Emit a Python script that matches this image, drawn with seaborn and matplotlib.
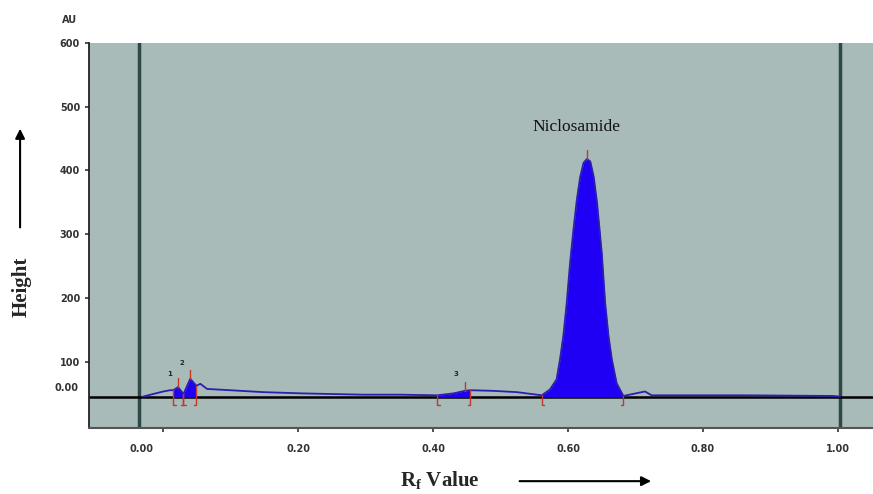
import numpy as np
import pandas as pd
import seaborn as sns
import matplotlib.pyplot as plt
import matplotlib.transforms as mtransforms

# Rf / height values (AU)
rf = [-0.030, 0.000, 0.010, 0.015, 0.022, 0.030, 0.040, 0.049, 0.055, 0.065,
      0.099, 0.148, 0.207, 0.296, 0.351, 0.406, 0.430, 0.447, 0.455, 0.489,
      0.524, 0.561, 0.573, 0.583, 0.588, 0.593, 0.598, 0.603, 0.608, 0.613,
      0.618, 0.623, 0.628, 0.633, 0.638, 0.643, 0.650, 0.655, 0.660, 0.665,
      0.672, 0.682, 0.714, 0.724, 0.766, 0.865, 0.993, 1.003]
height = [45, 53, 55, 55, 60, 49, 73, 62, 65, 57,
          55, 52, 50, 48, 48, 47, 50, 54, 55, 54,
          52, 47, 56, 72, 103, 140, 192, 255, 307, 354,
          390, 412, 418, 414, 390, 349, 270, 192, 140, 103,
          66, 46, 53, 47, 47, 47, 46, 45]

# integrated peaks: start, apex, end (Rf)
peak_start = [0.015, 0.030, 0.406, 0.561]
peak_apex = [0.022, 0.040, 0.447, 0.628]
peak_end = [0.030, 0.049, 0.455, 0.682]
peak_ids = ["1", "2", "3"]
id_pos = [(0.010, 80), (0.028, 98), (0.434, 80)]

baseline = 44
x_ticks = [0.0, 0.2, 0.4, 0.6, 0.8, 1.0]
x_labels = ["0.00", "0.20", "0.40", "0.60", "0.80", "1.00"]
y_ticks = [100, 200, 300, 400, 500, 600]

df = pd.DataFrame({"rf": rf, "height": height})

sns.set_theme(style="white")
plt.rcParams["font.family"] = ["DejaVu Sans"]

fig = plt.figure(figsize=(8.73, 4.94), dpi=100)
ax = fig.add_axes([0.102, 0.134, 0.898, 0.779])
ax.set_facecolor("#a8bbb9")

# front / start lines and baseline
ax.axvline(-0.036, color="#2d4846", lw=2.5, zorder=1)
ax.axvline(1.003, color="#2d4846", lw=2.5, zorder=1)
ax.axhline(baseline, color="black", lw=1.8, zorder=1)

x = np.array(rf)
y = np.array(height)
for s, e in zip(peak_start, peak_end):
    mask = (x >= s) & (x <= e)
    ax.fill_between(x, baseline, y, where=mask, color="#1f00f5", lw=0, zorder=2)

sns.lineplot(data=df, x="rf", y="height", sort=False, color="#2a1fb0",
             lw=1.3, ax=ax, zorder=3)

# integration markers
red = "#c0392b"
for s, a, e in zip(peak_start, peak_apex, peak_end):
    ys = np.interp(s, x, y)
    ye = np.interp(e, x, y)
    ya = np.interp(a, x, y)
    ax.plot([s + 0.004, s, s], [baseline - 12, baseline - 12, ys], color=red, lw=1, zorder=4)
    ax.plot([e - 0.004, e, e], [baseline - 12, baseline - 12, ye], color=red, lw=1, zorder=4)
    ax.plot([a, a], [ya, ya + 14], color=red, lw=1, zorder=4)

for t, (px, py) in zip(peak_ids, id_pos):
    ax.text(px, py, t, fontsize=5, fontweight="bold", ha="center", va="center")

ax.text(0.613, 468, "Niclosamide", family="Liberation Serif", fontsize=12.5,
        ha="center", va="center", color="#111111")

ax.set_xlim(-0.110, 1.052)
ax.set_ylim(-4, 600)
ax.set_xticks(x_ticks)
ax.set_xticklabels(x_labels)
ax.set_yticks(y_ticks)
ax.set_yticklabels([str(v) for v in y_ticks])
ax.tick_params(axis="both", labelsize=7, colors="#333333", length=3, width=1.2,
               direction="out", left=True, bottom=True)
ax.tick_params(axis="x", pad=9)
ax.set_xlabel("")
ax.set_ylabel("")
for lab in ax.get_xticklabels() + ax.get_yticklabels():
    lab.set_fontweight("bold")
# the 0.00 label sits left of its tick in the original
first = ax.get_xticklabels()[0]
first.set_transform(first.get_transform() +
                    mtransforms.ScaledTranslation(-0.22, 0, fig.dpi_scale_trans))
ax.text(-0.014, 58, "0.00", transform=ax.get_yaxis_transform(), fontsize=7,
        fontweight="bold", color="#333333", ha="right", va="center")

for side in ["top", "right"]:
    ax.spines[side].set_visible(False)
ax.spines["left"].set_color("#222222")
ax.spines["left"].set_linewidth(1.3)
ax.spines["bottom"].set_color("#555555")
ax.spines["bottom"].set_linewidth(1.5)

fig.text(0.080, 0.960, "AU", fontsize=7, fontweight="bold", color="#333333",
         ha="center", va="center")
fig.text(0.025, 0.42, "Height", family="Liberation Serif", fontsize=15,
         fontweight="bold", rotation=90, ha="center", va="center")
ax.annotate("", xy=(0.023, 0.745), xytext=(0.023, 0.534), xycoords="figure fraction",
            arrowprops=dict(arrowstyle="-|>", color="black", lw=1.5, mutation_scale=14))
fig.text(0.504, 0.026, r"R$_\mathregular{f}$ Value", family="Liberation Serif",
         fontsize=15, fontweight="bold", ha="center", va="center")
ax.annotate("", xy=(0.749, 0.026), xytext=(0.592, 0.026), xycoords="figure fraction",
            arrowprops=dict(arrowstyle="-|>", color="black", lw=1.5, mutation_scale=14))

fig.savefig("out.png", dpi=100)
